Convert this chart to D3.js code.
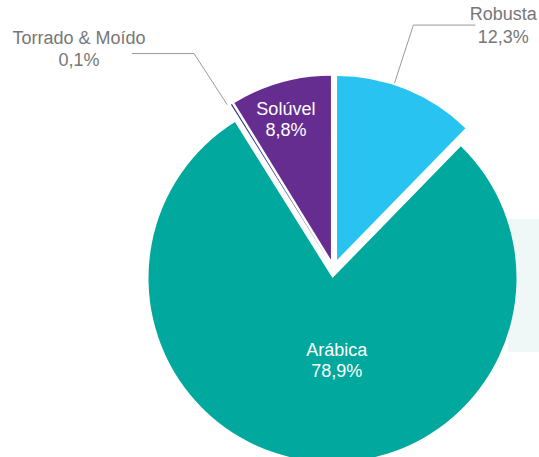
<!DOCTYPE html>
<html>
<head>
<meta charset="utf-8">
<script src="https://cdn.jsdelivr.net/npm/d3@7"></script>
<style>
  body { margin: 0; background: #fff; }
  svg { display: block; font-family: "Liberation Sans", Arial, Helvetica, sans-serif; }
</style>
</head>
<body>
<div id="chart"></div>
<script>
// data
var categories = ["Robusta", "Arábica", "Torrado & Moído", "Solúvel"];
var shares = [12.3, 78.9, 0.1, 8.8];
var shareLabels = ["12,3%", "78,9%", "0,1%", "8,8%"];
var colors = ["#29C3F2", "#00A89D", "#2E3192", "#662D91"];

var W = 539, H = 457;
var cx = 333.5, cy = 268.7, R = 184, explode = 9.4;

// label layout: inside labels (radius factor, angle shift in deg), outside labels with leader lines
var inside = {"Arábica": {k: 0.45, shift: -9}, "Solúvel": {k: 0.80, shift: -2}};
var outside = {
    "Robusta": {ang: 18, side: 1, tx: 28, ty: -5},
    "Torrado & Moído": {ang: 327, side: -1, tx: -53, ty: -10}
};

var svg = d3.select("#chart").append("svg").attr("width", W).attr("height", H);

// faint panel behind the pie on the right
svg.append("rect").attr("x", 508).attr("y", 219).attr("width", 40).attr("height", 133)
    .attr("fill", "#EFF8F7");

var pie = d3.pie().sort(null).startAngle(0).endAngle(2 * Math.PI).value(function(d){ return d.v; });
var arc = d3.arc().innerRadius(0).outerRadius(R);

var rows = categories.map(function(c, i){ return {name: c, v: shares[i], lab: shareLabels[i], col: colors[i]}; });
var arcs = pie(rows);

function offsetOf(d) {
    var m = (d.startAngle + d.endAngle) / 2;
    return [explode * Math.sin(m), -explode * Math.cos(m)];
}

var g = svg.append("g").attr("transform", "translate(" + cx + "," + cy + ")");

g.selectAll("path.slice").data(arcs).enter().append("path")
    .attr("class", "slice")
    .attr("d", arc)
    .attr("fill", function(d){ return d.data.col; })
    .attr("transform", function(d){ var o = offsetOf(d); return "translate(" + o[0] + "," + o[1] + ")"; });

// inside labels
arcs.forEach(function(d) {
    var cfg = inside[d.data.name];
    if (!cfg) return;
    var o = offsetOf(d);
    var a = (d.startAngle + d.endAngle) / 2 + cfg.shift * Math.PI / 180;
    var x = o[0] + cfg.k * R * Math.sin(a), y = o[1] - cfg.k * R * Math.cos(a);
    var t = g.append("text").attr("text-anchor", "middle").attr("fill", "#fff").attr("font-size", 18);
    t.append("tspan").attr("x", x).attr("y", y - 5).text(d.data.name);
    t.append("tspan").attr("x", x).attr("y", y + 16.5).text(d.data.lab);
});

// outside labels with leader lines
arcs.forEach(function(d) {
    var cfg = outside[d.data.name];
    if (!cfg) return;
    var o = offsetOf(d);
    var a = cfg.ang * Math.PI / 180;
    var p0 = [o[0] + (R + 2) * Math.sin(a), o[1] - (R + 2) * Math.cos(a)];
    var p1 = [o[0] + (R + 63) * Math.sin(a), o[1] - (R + 63) * Math.cos(a)];
    var p2 = [p1[0] + cfg.side * 62, p1[1]];
    g.append("polyline").attr("points", [p0, p1, p2].map(function(p){ return p.join(","); }).join(" "))
        .attr("fill", "none").attr("stroke", "#9a9a9a").attr("stroke-width", 1);
    var tx = p2[0] + cfg.tx, ty = p2[1] + cfg.ty;
    var t = g.append("text").attr("text-anchor", "middle").attr("fill", "#777").attr("font-size", 18);
    t.append("tspan").attr("x", tx).attr("y", ty).text(d.data.name);
    t.append("tspan").attr("x", tx).attr("y", ty + 22.5).text(d.data.lab);
});
</script>
</body>
</html>
